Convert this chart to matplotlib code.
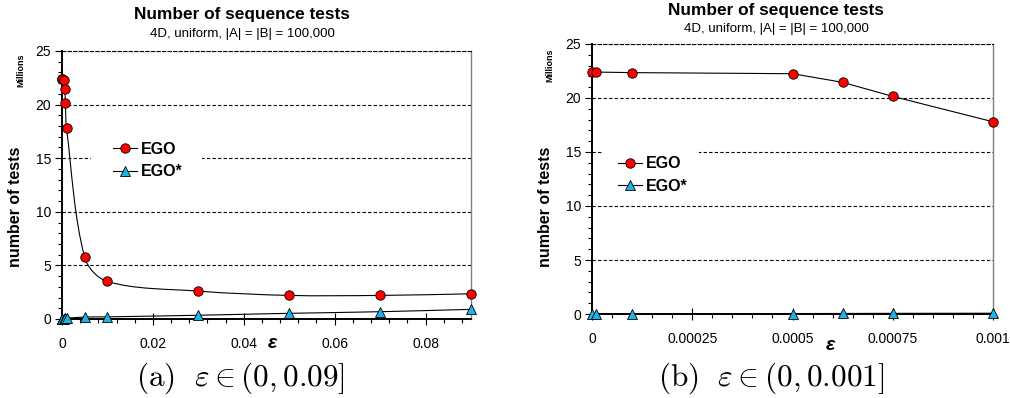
import numpy as np
import matplotlib
matplotlib.use("Agg")
import matplotlib.pyplot as plt
from matplotlib.path import Path
from matplotlib.patches import PathPatch, Rectangle
from matplotlib.lines import Line2D
from matplotlib.ticker import MultipleLocator
from matplotlib.font_manager import FontProperties

plt.rcParams['font.family'] = ['Liberation Sans', 'DejaVu Sans']
plt.rcParams['mathtext.fontset'] = 'cm'

# epsilon values and number of sequence tests (millions)
eps = [0, 0.00001, 0.0001, 0.0005, 0.000625, 0.00075, 0.001,
       0.005, 0.01, 0.03, 0.05, 0.07, 0.09]
ego = [22.4, 22.4, 22.35, 22.25, 21.45, 20.15, 17.8,
       5.75, 3.5, 2.6, 2.2, 2.2, 2.35]
ego_star = [0.01, 0.01, 0.02, 0.04, 0.05, 0.06, 0.07,
            0.18, 0.2, 0.35, 0.53, 0.68, 0.9]

series_names = ['EGO', 'EGO*']
title = 'Number of sequence tests'
subtitle = '4D, uniform, |A| = |B| = 100,000'
ylabel = 'number of tests'
yunit = 'Millions'
xticks_a = [0, 0.02, 0.04, 0.06, 0.08]
xticklabels_a = ['0', '0.02', '0.04', '0.06', '0.08']
xticks_b = [0, 0.00025, 0.0005, 0.00075, 0.001]
xticklabels_b = ['0', '0.00025', '0.0005', '0.00075', '0.001']
yticks = [0, 5, 10, 15, 20, 25]
caption_a = r'$\mathrm{(a)}\ \ \varepsilon \in (0, 0.09]$'
caption_b = r'$\mathrm{(b)}\ \ \varepsilon \in (0, 0.001]$'

W, H = 1010, 398
fig = plt.figure(figsize=(W / 100, H / 100), dpi=100)


def box(l, t, r, b):
    return [l / W, 1 - b / H, (r - l) / W, (b - t) / H]


def ftext(x, y, s, **kw):
    fig.text(x / W, 1 - y / H, s, **kw)


def smooth_path(ax, x, y):
    """Smoothed line through the points: Bezier segments whose tangents are
    weighted by the on-screen lengths of the neighbouring segments."""
    disp = ax.transData.transform(np.column_stack([x, y]).astype(float))
    n = len(disp)
    verts = [disp[0]]
    codes = [Path.MOVETO]
    for i in range(n - 1):
        p0 = disp[max(i - 1, 0)]
        p1 = disp[i]
        p2 = disp[i + 1]
        p3 = disp[min(i + 2, n - 1)]
        d01 = np.hypot(*(p1 - p0))
        d12 = np.hypot(*(p2 - p1))
        d23 = np.hypot(*(p3 - p2))
        w1 = d12 / (d01 + d12) if d01 + d12 > 0 else 0.0
        w2 = d12 / (d12 + d23) if d12 + d23 > 0 else 0.0
        c1 = p1 + (p2 - p0) * w1 / 3.0
        c2 = p2 - (p3 - p1) * w2 / 3.0
        verts += [c1, c2, p2]
        codes += [Path.CURVE4] * 3
    data_verts = ax.transData.inverted().transform(np.array(verts))
    return Path(data_verts, codes)


RED = '#FF0000'
CYAN = '#1BB4E6'
dash = (0, (3, 2))
legend_font = FontProperties(family='Liberation Sans', weight='bold', size=11.5)


def style_axes(ax, xlim, xticks, xticklabels, xminor):
    ax.set_xlim(*xlim)
    ax.set_ylim(0, 25)
    ax.set_yticks(yticks)
    ax.yaxis.set_minor_locator(MultipleLocator(1))
    ax.set_xticks(xticks)
    ax.set_xticklabels(xticklabels)
    ax.xaxis.set_minor_locator(MultipleLocator(xminor))
    ax.tick_params(axis='y', which='major', direction='out', length=5,
                   width=0.8, pad=3, labelsize=10)
    ax.tick_params(axis='y', which='minor', direction='out', length=3, width=0.8)
    ax.tick_params(axis='x', which='major', direction='inout', length=8,
                   width=0.8, pad=9, labelsize=10)
    ax.tick_params(axis='x', which='minor', direction='out', length=3, width=0.8)
    ax.grid(axis='y', which='major', color='black', linestyle=dash, linewidth=0.8)
    ax.set_axisbelow(True)
    ax.spines['left'].set_linewidth(1.4)
    ax.spines['bottom'].set_linewidth(1.4)
    ax.spines['right'].set_color('#808080')
    ax.spines['right'].set_linewidth(1.0)
    ax.spines['top'].set_linestyle(dash)
    ax.spines['top'].set_linewidth(0.8)


def draw_series(ax, x, y1, y2, smooth):
    for y, mk, col, ms in ((y2, '^', CYAN, 7), (y1, 'o', RED, 6.8)):
        if smooth:
            ax.add_patch(PathPatch(smooth_path(ax, x, y), fill=False,
                                   edgecolor='black', linewidth=0.8, zorder=3))
        else:
            ax.plot(x, y, color='black', linewidth=0.8, zorder=3)
        ax.plot(x, y, linestyle='none', marker=mk, markersize=ms,
                markerfacecolor=col, markeredgecolor='black',
                markeredgewidth=0.6, zorder=4, clip_on=False)


def add_legend(ax, anchor, backdrop):
    # white backdrop behind the legend entries, hiding the grid line there
    ax.add_patch(Rectangle(backdrop[:2], backdrop[2], backdrop[3],
                           transform=ax.transAxes, facecolor='white',
                           edgecolor='none', zorder=2.4))
    handles = [
        Line2D([], [], color='black', linewidth=0.8, marker='o', markersize=6.8,
               markerfacecolor=RED, markeredgecolor='black', markeredgewidth=0.6),
        Line2D([], [], color='black', linewidth=0.8, marker='^', markersize=7,
               markerfacecolor=CYAN, markeredgecolor='black', markeredgewidth=0.6),
    ]
    leg = ax.legend(handles, series_names, loc='center left',
                    bbox_to_anchor=anchor, frameon=False,
                    prop=legend_font, handlelength=1.5, handletextpad=0.25,
                    borderpad=0, labelspacing=0.45, borderaxespad=0)
    leg.set_zorder(2.5)


def frac_box(ax_l, ax_t, ax_r, ax_b, l, t, r, b):
    w, h = ax_r - ax_l, ax_b - ax_t
    return ((l - ax_l) / w, (ax_b - b) / h, (r - l) / w, (b - t) / h)


# panel (a): full epsilon range
A = (62, 51, 471, 319)
ax1 = fig.add_axes(box(*A))
style_axes(ax1, (0, 0.09), xticks_a, xticklabels_a, 0.004)
draw_series(ax1, eps, ego, ego_star, smooth=True)
add_legend(ax1, ((113 - A[0]) / (A[2] - A[0]), (A[3] - 160.5) / (A[3] - A[1])),
           frac_box(*A, 91, 139, 202, 183))

# panel (b): epsilon up to 0.001
B = (592, 44, 993, 314)
sel = [i for i, e in enumerate(eps) if e <= 0.001]
ax2 = fig.add_axes(box(*B))
style_axes(ax2, (0, 0.001), xticks_b, xticklabels_b, 0.00005)
draw_series(ax2, [eps[i] for i in sel], [ego[i] for i in sel],
            [ego_star[i] for i in sel], smooth=False)
add_legend(ax2, ((618 - B[0]) / (B[2] - B[0]), (B[3] - 175) / (B[3] - B[1])),
           frac_box(*B, 602, 143, 699, 198))

# titles, axis labels and captions
for cx, ty, sy in ((242, 19, 37), (776, 15, 32)):
    ftext(cx, ty, title, ha='center', va='baseline', fontsize=12.4,
          fontweight='bold')
    ftext(cx, sy, subtitle, ha='center', va='baseline', fontsize=9.5)

for lx, ly, mx, my in ((16, 207, 21, 70), (545, 207, 550, 65)):
    ftext(lx, ly, ylabel, rotation=90, ha='center', va='center',
          fontsize=11.5, fontweight='bold')
    ftext(mx, my, yunit, rotation=90, ha='center', va='center',
          fontsize=6.5, fontweight='bold')

for ex, ey in ((272, 344), (830, 345)):
    ftext(ex, ey, '\u03b5', ha='center', va='center', fontsize=14,
          fontweight='bold', fontstyle='italic')

ftext(240, 378, caption_a, ha='center', va='center', fontsize=22.5)
ftext(771, 378, caption_b, ha='center', va='center', fontsize=22.5)

fig.savefig('out.png', dpi=100)
